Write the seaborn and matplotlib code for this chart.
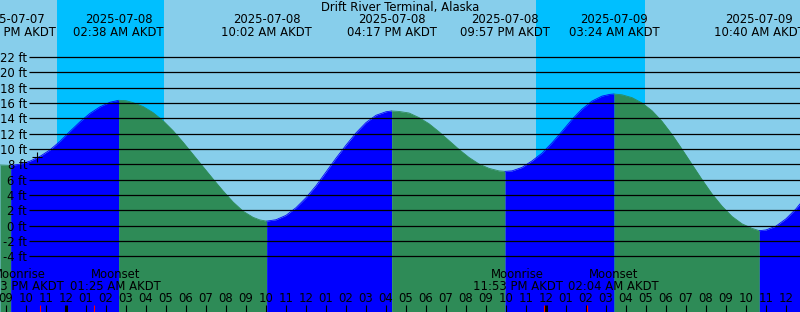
import matplotlib
matplotlib.use("Agg")
import numpy as np
import pandas as pd
import matplotlib.pyplot as plt
import seaborn as sns
from datetime import datetime, timedelta

title = "Drift River Terminal, Alaska"

# hours relative to 2025-07-08 00:00 AKDT, tide height in feet
tide_hours = [-3.3, -2.767, -2.3, -1.8, -1.3, -0.8, -0.3, 0.2, 0.7, 1.2, 1.7, 2.2, 2.633,
              3.0, 3.35, 3.85, 4.35, 4.85, 5.35, 5.85, 6.35, 6.85, 7.35, 7.85, 8.35, 8.85,
              9.35, 9.7, 10.033,
              10.5, 11.0, 11.5, 12.0, 12.5, 13.0, 13.5, 14.0, 14.5, 15.0, 15.5, 16.0, 16.283,
              16.65, 17.15, 17.65, 18.15, 18.65, 19.15, 19.65, 20.15, 20.65, 21.15, 21.65, 21.95,
              22.3, 22.8, 23.3, 23.8, 24.3, 24.8, 25.3, 25.8, 26.3, 26.8, 27.2, 27.4,
              27.8, 28.3, 28.8, 29.3, 29.8, 30.3, 30.8, 31.3, 31.8, 32.3, 32.8, 33.3, 33.8,
              34.3, 34.667,
              35.0, 35.5, 36.0, 36.5, 36.7]
tide_ft = [7.92, 7.87, 8.02, 8.42, 9.04, 9.89, 11.0, 12.3, 13.55, 14.65, 15.5, 16.1, 16.35,
           16.3, 16.05, 15.55, 14.75, 13.7, 12.4, 10.9, 9.3, 7.7, 6.1, 4.55, 3.1, 1.9,
           1.1, 0.75, 0.6,
           0.78, 1.35, 2.35, 3.65, 5.2, 7.0, 8.8, 10.5, 12.1, 13.45, 14.4, 14.86, 14.96,
           14.9, 14.7, 14.1, 13.3, 12.25, 11.1, 9.95, 8.9, 8.05, 7.48, 7.15, 7.09,
           7.15, 7.6, 8.45, 9.45, 10.8, 12.3, 13.85, 15.2, 16.25, 16.9, 17.13, 17.17,
           17.07, 16.7, 16.01, 15.0, 13.61, 11.9, 9.98, 8.0, 6.02, 4.15, 2.55, 1.21, 0.25,
           -0.34, -0.65,
           -0.55, -0.05, 0.9, 2.2, 2.85]

extreme_hours = [-2.767, 2.633, 10.033, 16.283, 21.95, 27.4, 34.667]
extreme_dates = ["2025-07-07", "2025-07-08", "2025-07-08", "2025-07-08",
                 "2025-07-08", "2025-07-09", "2025-07-09"]
extreme_times = ["09:14 PM AKDT", "02:38 AM AKDT", "10:02 AM AKDT", "04:17 PM AKDT",
                 "09:57 PM AKDT", "03:24 AM AKDT", "10:40 AM AKDT"]

night_start = [-0.45, 23.5]
night_end = [4.883, 28.933]

moonrise_hours = [-1.283, 23.883]
moonrise_times = ["10:43 PM AKDT", "11:53 PM AKDT"]
moonset_hours = [1.417, 26.067]
moonset_times = ["01:25 AM AKDT", "02:04 AM AKDT"]

now_hour = -1.45
now_ft = 9.0

ft_ticks = list(range(-4, 23, 2))
hour_ticks = list(range(-3, 37))

# ---------------------------------------------------------------
W, H = 800, 312
C_DAY = "#87CEEB"
C_NIGHT = "#00BFFF"
C_RISE = "#0000FF"
C_FALL = "#2E8B57"
FS = 8.4
TXT = "black"

sns.set_theme(style="white")
plt.rcParams["font.family"] = ["DejaVu Sans"]
plt.rcParams["text.color"] = TXT

fig = plt.figure(figsize=(W / 100, H / 100), dpi=100)
ax = fig.add_axes([0, 0, 1, 1])
xmin, xmax = -3.3, 36.7
ymin, ymax = -11.25, 29.43
ax.set_facecolor(C_DAY)
for s in ax.spines.values():
    s.set_visible(False)


def fy(y_img):
    return 1 - y_img / H


for a, b in zip(night_start, night_end):
    ax.axvspan(a, b, color=C_NIGHT, lw=0, zorder=1)

df = pd.DataFrame({"hour": tide_hours, "ft": tide_ft})
bounds = [xmin] + extreme_hours + [xmax]
for a, b in zip(bounds[:-1], bounds[1:]):
    seg = df[(df.hour >= a - 1e-9) & (df.hour <= b + 1e-9)]
    if len(seg) < 2:
        continue
    rising = seg.ft.iloc[-1] > seg.ft.iloc[0]
    c = C_RISE if rising else C_FALL
    ax.fill_between(seg.hour, seg.ft, ymin, color=c, lw=0, zorder=2)
    sns.lineplot(data=seg, x="hour", y="ft", color=c, lw=0.6, ax=ax, zorder=2,
                 sort=False, estimator=None)
ax.set_xlabel("")
ax.set_ylabel("")
ax.set_xlim(xmin, xmax)
ax.set_ylim(ymin, ymax)
ax.set_xticks([])
ax.set_yticks([])

ytr = ax.get_yaxis_transform()
xtr = ax.get_xaxis_transform()
ax.hlines(ft_ticks, 29 / W, 1, transform=ytr, color="black", lw=0.9, zorder=3)
for v in ft_ticks:
    ax.text(27 / W, v, f"{v} ft", transform=ytr, ha="right", va="center_baseline",
            fontsize=FS, color=TXT, zorder=4)

ax.text(0.5, fy(11.5), title, transform=ax.transAxes, ha="center", va="baseline",
        fontsize=FS, color=TXT, zorder=4)
for h, d, t in zip(extreme_hours, extreme_dates, extreme_times):
    ax.text(h, fy(23.3), d, transform=xtr, ha="center", va="baseline", fontsize=FS,
            color=TXT, zorder=4)
    ax.text(h, fy(35.8), t, transform=xtr, ha="center", va="baseline", fontsize=FS,
            color=TXT, zorder=4)

# moon labels pushed apart to avoid overlap
for r, rt, s, st in zip(moonrise_hours, moonrise_times, moonset_hours, moonset_times):
    mid = (r + s) / 2
    half = max((s - r) / 2, 2.4)
    for xx, name, tt in [(mid - half, "Moonrise", rt), (mid + half, "Moonset", st)]:
        ax.text(xx, fy(278.3), name, transform=xtr, ha="center", va="baseline",
                fontsize=FS, color=TXT, zorder=4)
        ax.text(xx, fy(290), tt, transform=xtr, ha="center", va="baseline",
                fontsize=FS, color=TXT, zorder=4)

base = datetime(2025, 7, 8)
tick_h = 7 / H
for h in hour_ticks:
    lab = (base + timedelta(hours=h)).strftime("%I")
    ax.text(h, fy(301.7), lab, transform=xtr, ha="center", va="baseline", fontsize=FS,
            color=TXT, zorder=4)
    midnight = (h % 24 == 0)
    ax.vlines(h, 0, tick_h, transform=xtr, color="black",
              lw=2.2 if midnight else 0.8, zorder=5)
for h in moonrise_hours + moonset_hours:
    ax.vlines(h, 0, tick_h, transform=xtr, color="red", lw=0.8, zorder=6)

ax.plot([now_hour], [now_ft], marker="+", ms=6.5, mew=0.8, color="black", ls="none", zorder=6)

fig.savefig("out.png", dpi=100)
